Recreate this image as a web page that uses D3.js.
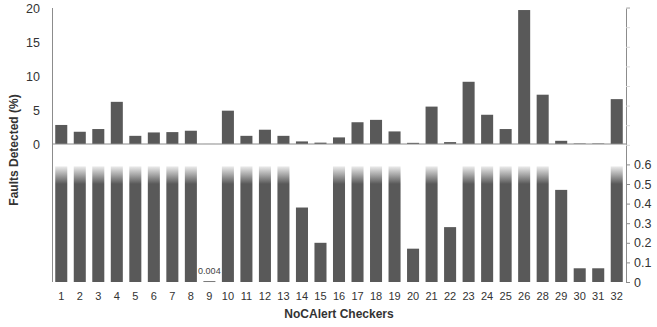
<!DOCTYPE html>
<html><head><meta charset="utf-8">
<script src="https://cdn.jsdelivr.net/npm/d3@7"></script>
<style>body{margin:0;background:#fff}svg{display:block}text{font-family:"Liberation Sans",Arial,sans-serif}</style>
</head><body><svg id="c" width="657" height="327"></svg>
<script>
const categories = ["1","2","3","4","5","6","7","8","9","10","11","12","13","14","15","16","17","18","19","20","21","22","23","24","25","26","28","29","30","31","32"];
const values = [2.8,1.8,2.2,6.2,1.2,1.7,1.75,1.95,0.004,4.9,1.2,2.1,1.2,0.38,0.2,0.97,3.2,3.55,1.85,0.17,5.5,0.28,9.15,4.3,2.2,19.7,7.25,0.47,0.07,0.07,6.6];
const topTicks = [0,5,10,15,20];
const rightTicks = [0,0.1,0.2,0.3,0.4,0.5,0.6,0.7,0.8,0.9,1.0,1.1,1.2,1.3,1.4];
const labelledRight = [0,0.1,0.2,0.3,0.4,0.5,0.6];
const annotation = {cat:"9", text:"0.004"};

const svg = d3.select("#c");
const barColor = "#595959", axisColor = "#8c8c8c";
const x = d3.scaleBand().domain(categories).range([52,626]).paddingInner(0.35).paddingOuter(0.175);
const yTop = d3.scaleLinear().domain([0,20]).range([144,8]);
const yBot = d3.scaleLinear().domain([0,1.4]).range([282,7.6]);
const capVal = 0.59, fadeVal = 0.5;

const defs = svg.append("defs");
const g = defs.append("linearGradient").attr("id","fade").attr("gradientUnits","userSpaceOnUse")
  .attr("x1",0).attr("x2",0).attr("y1",yBot(capVal)).attr("y2",yBot(fadeVal));
g.append("stop").attr("offset",0).attr("stop-color","#ececec");
g.append("stop").attr("offset",1).attr("stop-color",barColor);

// top panel bars
svg.append("g").selectAll("rect").data(categories).join("rect")
  .attr("x",d=>x(d)).attr("width",x.bandwidth())
  .attr("y",(d,i)=>yTop(values[i])).attr("height",(d,i)=>yTop(0)-yTop(values[i]))
  .attr("fill",barColor);

// bottom panel bars
svg.append("g").selectAll("rect").data(categories).join("rect")
  .attr("x",d=>x(d)).attr("width",x.bandwidth())
  .attr("y",(d,i)=>yBot(Math.min(values[i],capVal)))
  .attr("height",(d,i)=>Math.max(yBot(0)-yBot(Math.min(values[i],capVal)),0.8))
  .attr("fill",(d,i)=>values[i]>fadeVal+0.1?"url(#fade)":barColor);

// top baseline
svg.append("line").attr("x1",52).attr("x2",626).attr("y1",yTop(0)).attr("y2",yTop(0))
  .attr("stroke",axisColor).attr("stroke-width",1.2);

// left axis
const la = svg.append("g").attr("transform","translate(52,0)")
  .call(d3.axisLeft(yTop).tickValues(topTicks).tickSize(0).tickPadding(12));
la.select(".domain").remove();
la.selectAll("text").attr("font-size",12.5).attr("fill","#333");
svg.append("line").attr("x1",52.5).attr("x2",52.5).attr("y1",8).attr("y2",282).attr("stroke",axisColor);

// right axis
const ra = svg.append("g").attr("transform","translate(626,0)")
  .call(d3.axisRight(yBot).tickValues(rightTicks).tickSize(4).tickPadding(4)
    .tickFormat(d=>labelledRight.includes(d)?d3.format("")(+d.toFixed(1)):""));
ra.select(".domain").attr("stroke",axisColor);
ra.selectAll(".tick line").attr("stroke",(d)=>d>0.65?"#d8d8d8":axisColor);
ra.selectAll("text").attr("font-size",12.5).attr("fill","#333");

// x axis labels
const xa = svg.append("g").attr("transform","translate(0,282)")
  .call(d3.axisBottom(x).tickSize(0).tickPadding(10));
xa.select(".domain").remove();
xa.selectAll("text").attr("font-size",11).attr("fill","#333");

// annotation
svg.append("text").attr("x",x(annotation.cat)+x.bandwidth()/2).attr("y",274)
  .attr("text-anchor","middle").attr("font-size",9).attr("fill","#444").text(annotation.text);

// titles
svg.append("text").attr("x",339).attr("y",318).attr("text-anchor","middle")
  .attr("font-size",12).attr("font-weight","bold").attr("fill","#333").text("NoCAlert Checkers");
svg.append("text").attr("transform","translate(18,150) rotate(-90)").attr("text-anchor","middle")
  .attr("font-size",12).attr("font-weight","bold").attr("fill","#333").text("Faults Detected (%)");
</script></body></html>
